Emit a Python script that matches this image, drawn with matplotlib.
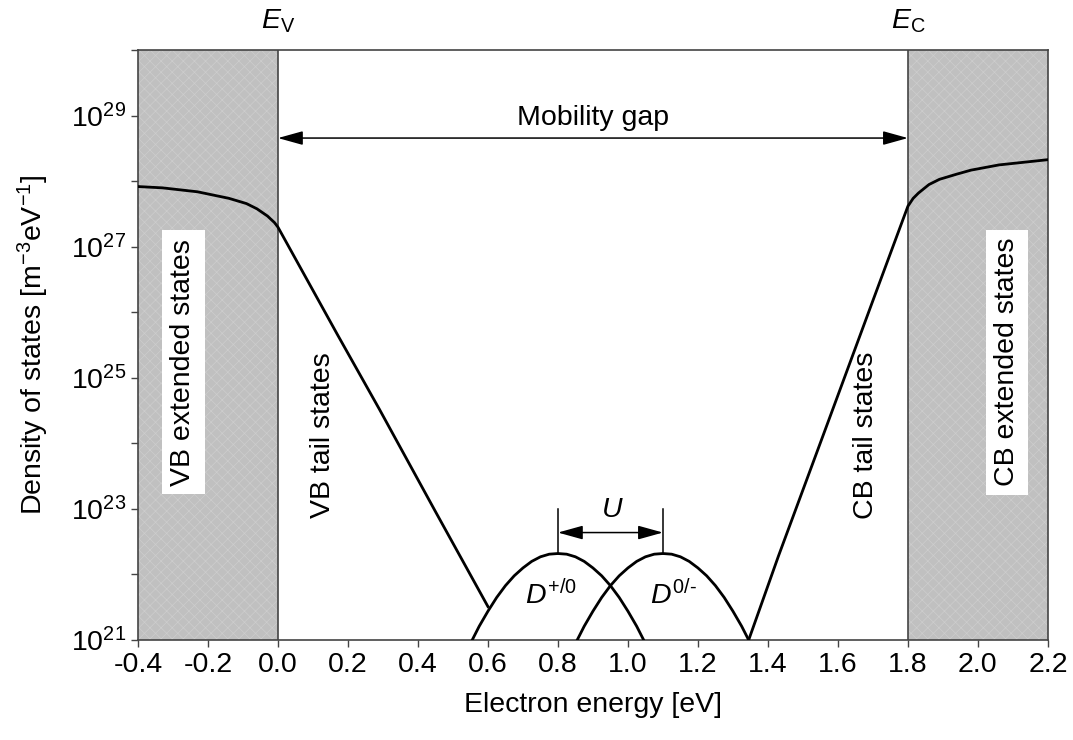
import math
import matplotlib
matplotlib.use("Agg")
import matplotlib.pyplot as plt
from matplotlib.ticker import FixedLocator, FuncFormatter

plt.rcParams['font.family'] = ['Liberation Sans', 'DejaVu Sans']
plt.rcParams['mathtext.fontset'] = 'custom'
plt.rcParams['mathtext.rm'] = 'Liberation Sans'
plt.rcParams['mathtext.it'] = 'Liberation Sans:italic'
plt.rcParams['hatch.linewidth'] = 0.5

# valence band: extended states + tail (log10 of DOS)
vb_x = [-0.40, -0.33, -0.23, -0.14, -0.09, -0.06, -0.03, -0.01, 0.0, 0.17, 0.29, 0.45, 0.60]
vb_log = [27.92, 27.90, 27.84, 27.74, 27.66, 27.58, 27.47, 27.37, 27.30, 25.66, 24.52, 22.96, 21.51]

# conduction band: tail + extended states
cb_x = [1.345, 1.43, 1.57, 1.70, 1.80, 1.815, 1.83, 1.86, 1.89, 1.94, 1.98, 2.06, 2.20]
cb_log = [21.0, 22.28, 24.30, 26.18, 27.62, 27.74, 27.82, 27.95, 28.03, 28.11, 28.17, 28.25, 28.33]

# defect states D+/0 and D0/-
dp_x = [0.555, 0.575, 0.60, 0.625, 0.65, 0.675, 0.70, 0.725, 0.75, 0.775, 0.80,
        0.825, 0.85, 0.875, 0.90, 0.925, 0.95, 0.975, 1.00, 1.025, 1.045]
dp_log = [21.0, 21.21, 21.44, 21.65, 21.83, 21.98, 22.10, 22.20, 22.27, 22.31, 22.32,
          22.31, 22.27, 22.20, 22.10, 21.98, 21.83, 21.65, 21.44, 21.21, 21.0]
dm_x = [0.855, 0.875, 0.90, 0.925, 0.95, 0.975, 1.00, 1.025, 1.05, 1.075, 1.10,
        1.125, 1.15, 1.175, 1.20, 1.225, 1.25, 1.275, 1.30, 1.325, 1.345]
dm_log = [21.0, 21.21, 21.44, 21.65, 21.83, 21.98, 22.10, 22.20, 22.27, 22.31, 22.32,
          22.31, 22.27, 22.20, 22.10, 21.98, 21.83, 21.65, 21.44, 21.21, 21.0]

xticks = [-0.4, -0.2, 0.0, 0.2, 0.4, 0.6, 0.8, 1.0, 1.2, 1.4, 1.6, 1.8, 2.0, 2.2]
ydecades = list(range(21, 31))

Ev = 0.0
Ec = 1.8
fs = 20.5

fig = plt.figure(figsize=(10.73, 7.40), dpi=100)
ax = fig.add_axes([0.1286, 0.1351, 0.848, 0.797])
ax.set_yscale('log')
ax.set_xlim(-0.4, 2.2)
ax.set_ylim(1e21, 1e30)

# shaded extended-state regions
for a, b in [(-0.4, Ev), (Ec, 2.2)]:
    ax.axvspan(a, b, facecolor='#c0c0c0', edgecolor='#cdcdcd', hatch='xxx', lw=0, zorder=0)
for xv in [Ev, Ec]:
    ax.axvline(xv, color='#444444', lw=1.2, zorder=1)

def pw(vals):
    return [10 ** v for v in vals]

lw = 2.0
for xs, ys in [(vb_x, vb_log), (cb_x, cb_log), (dp_x, dp_log), (dm_x, dm_log)]:
    ax.plot(xs, pw(ys), color='black', lw=lw, zorder=3, solid_joinstyle='round')

# mobility gap arrow
arrow = dict(arrowstyle='<|-|>,head_length=0.9,head_width=0.25', mutation_scale=17,
             shrinkA=0, shrinkB=0, color='black', lw=1.1)
ax.annotate('', xy=(Ev, 10 ** 28.66), xytext=(Ec, 10 ** 28.66), arrowprops=arrow)
ax.text(0.9, 10 ** 28.97, 'Mobility gap', ha='center', va='center', fontsize=fs)

# U arrow
for xv in [0.8, 1.1]:
    ax.plot([xv, xv], [10 ** 22.32, 10 ** 23.0], color='black', lw=1.1)
ax.annotate('', xy=(0.8, 10 ** 22.64), xytext=(1.1, 10 ** 22.64), arrowprops=arrow)
ax.text(0.955, 10 ** 22.98, '$U$', ha='center', va='center', fontsize=fs)
ax.text(0.78, 10 ** 21.69, r'$D^{+/0}$', ha='center', va='center', fontsize=fs)
ax.text(1.13, 10 ** 21.69, r'$D^{0/\text{-}}$', ha='center', va='center', fontsize=fs)

# region labels
box = dict(facecolor='white', edgecolor='none', pad=6)
ax.text(-0.27, 10 ** 25.24, 'VB extended states', rotation=90, ha='center', va='center',
        fontsize=fs, bbox=box)
ax.text(2.083, 10 ** 25.24, 'CB extended states', rotation=90, ha='center', va='center',
        fontsize=fs, bbox=box)
ax.text(0.13, 10 ** 24.13, 'VB tail states', rotation=90, ha='center', va='center', fontsize=fs)
ax.text(1.68, 10 ** 24.13, 'CB tail states', rotation=90, ha='center', va='center', fontsize=fs)

# band edge labels above the axes
ax.text(Ev, 10 ** 30.45, r'$E_{\rm V}$', ha='center', va='center', fontsize=fs)
ax.text(Ec, 10 ** 30.45, r'$E_{\rm C}$', ha='center', va='center', fontsize=fs)

def fmt(v, p):
    d = round(math.log10(v))
    return '$10^{%d}$' % d if d % 2 == 1 and d < 30 else ''

ax.set_xticks(xticks)
ax.set_xticklabels(['%.1f' % t for t in xticks], fontsize=fs)
ax.yaxis.set_major_locator(FixedLocator([10.0 ** d for d in ydecades]))
ax.yaxis.set_minor_locator(FixedLocator([]))
ax.yaxis.set_major_formatter(FuncFormatter(fmt))
ax.tick_params(axis='both', labelsize=fs, direction='out', length=5, width=1, color='#444444')

for s in ax.spines.values():
    s.set_color('#444444')
    s.set_linewidth(1.2)

ax.set_xlabel('Electron energy [eV]', fontsize=fs, labelpad=10)
ax.set_ylabel('Density of states [m$^{-3}$eV$^{-1}$]', fontsize=fs, labelpad=14)

fig.savefig('out.png', dpi=100)
